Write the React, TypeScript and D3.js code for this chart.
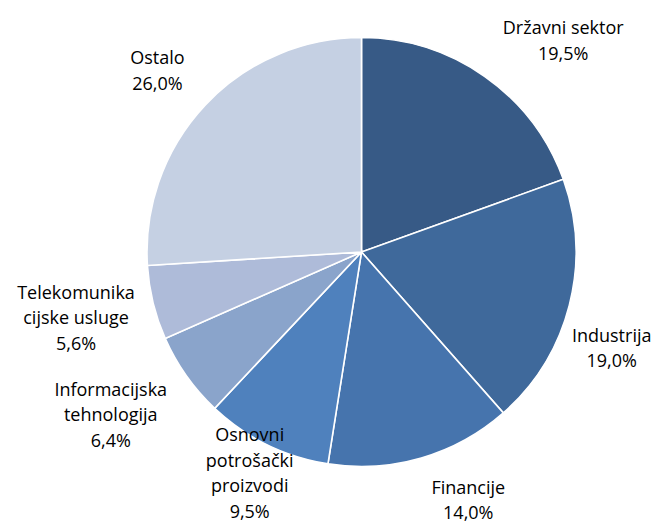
import React from "react";
import * as d3 from "d3";

const categories = [
  "Državni sektor",
  "Industrija",
  "Financije",
  "Osnovni potrošački proizvodi",
  "Informacijska tehnologija",
  "Telekomunikacijske usluge",
  "Ostalo",
];
const values = [19.5, 19.0, 14.0, 9.5, 6.4, 5.6, 26.0];
const valueLabels = ["19,5%", "19,0%", "14,0%", "9,5%", "6,4%", "5,6%", "26,0%"];
const labelLines = [
  ["Državni sektor"],
  ["Industrija"],
  ["Financije"],
  ["Osnovni", "potrošački", "proizvodi"],
  ["Informacijska", "tehnologija"],
  ["Telekomunika", "cijske usluge"],
  ["Ostalo"],
];
const colors = ["#375A86", "#3F699B", "#4674AD", "#4F81BD", "#8AA4CB", "#AEBBD9", "#C5D0E3"];

// label placement: radius (px) and angle (deg) from the pie centre
const labelRadius = [292, 268, 270, 248, 299, 293, 273];
const labelAngle = [43.7, 111, 156.7, 206.8, 237, 257, 311.6];

const W = 656;
const H = 524;
const cx = 361.5;
const cy = 252;
const R = 214.5;
const lineH = 25.5;
const fontSize = 18;

export default function App() {
  const pie = d3.pie<number>().sort(null).value((d) => d)(values);
  const arc = d3.arc<d3.PieArcDatum<number>>().innerRadius(0).outerRadius(R);
  return (
    <svg width={W} height={H} style={{ position: "absolute", left: 0, top: 0 }}
      fontFamily="'Open Sans', sans-serif">
      <g transform={`translate(${cx},${cy})`}>
        {pie.map((p, i) => (
          <path key={categories[i]} d={arc(p) || ""} fill={colors[i]} stroke="#fff" strokeWidth={1.6} />
        ))}
        {pie.map((p, i) => {
          const a = (labelAngle[i] * Math.PI) / 180;
          const x = labelRadius[i] * Math.sin(a);
          const y = -labelRadius[i] * Math.cos(a);
          const lines = [...labelLines[i], valueLabels[i]];
          const y0 = y - ((lines.length - 1) * lineH) / 2;
          return (
            <text key={"t" + i} textAnchor="middle" fontSize={fontSize} fill="#000">
              {lines.map((l, j) => (
                <tspan key={j} x={x} y={y0 + j * lineH} dy="0.35em">{l}</tspan>
              ))}
            </text>
          );
        })}
      </g>
    </svg>
  );
}
